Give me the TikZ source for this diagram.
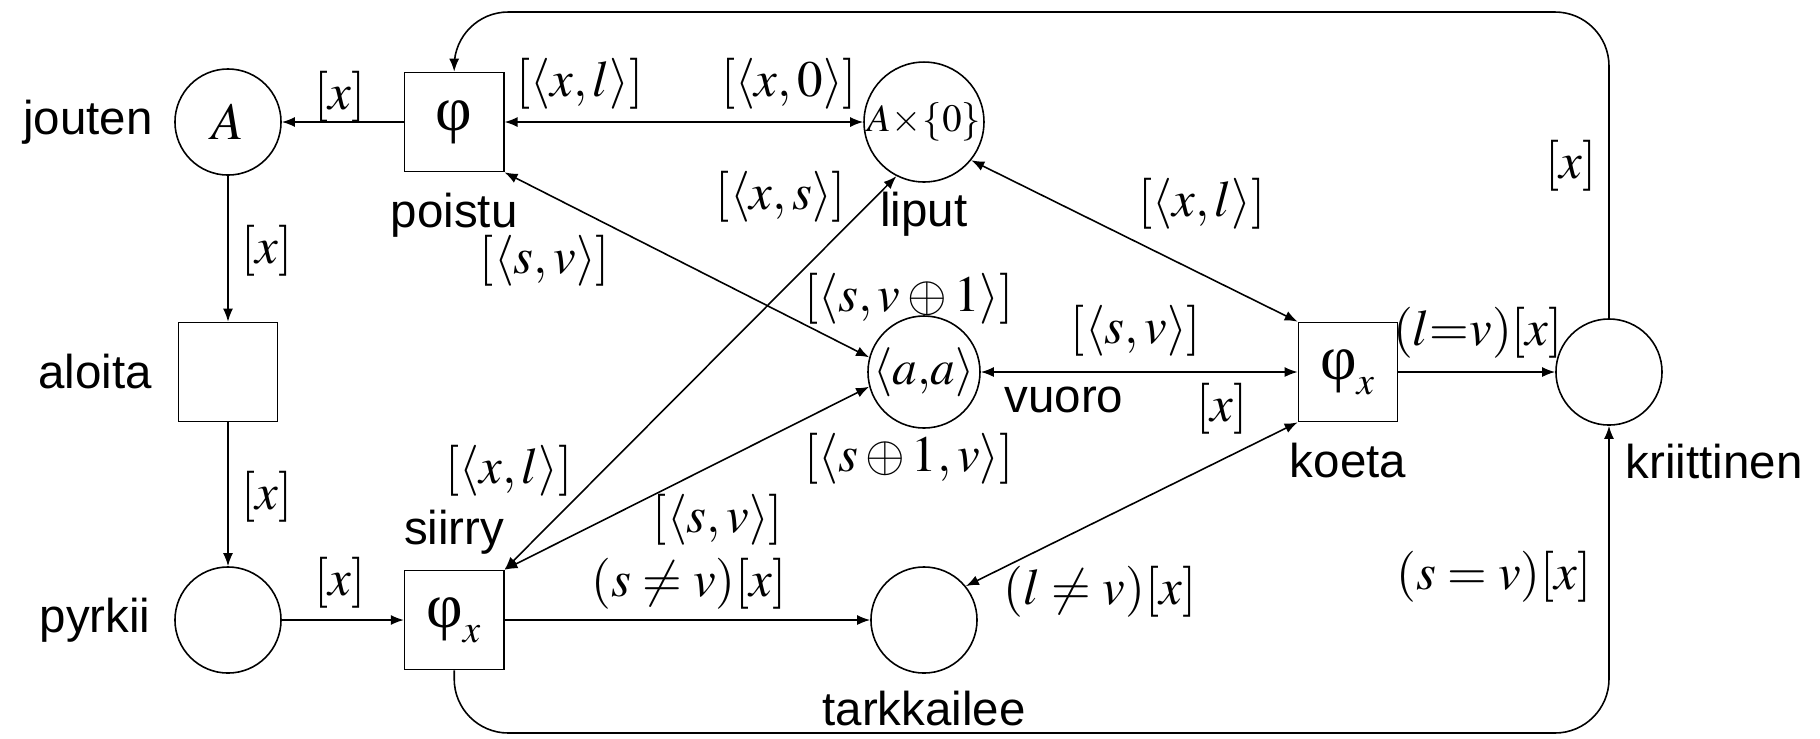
\documentclass[tikz,border=0pt]{standalone}
\usepackage{mathptmx}
\usepackage[no-math]{fontspec}
\setmainfont{Liberation Sans}
\newfontfamily\phifont{Liberation Serif}
\usepackage{tikz}
\usetikzlibrary{arrows.meta,positioning}

\newcommand{\phisym}{\mbox{\phifont\fontsize{18}{20}\selectfont φ}}

\begin{document}
\begin{tikzpicture}[
    x=0.01cm, y=-0.01cm,
    place/.style={draw, circle, minimum size=1.06cm, inner sep=0pt, line width=0.45pt},
    trans/.style={draw, minimum width=0.99cm, minimum height=0.99cm, inner sep=0pt, line width=0.45pt},
    flow/.style={-{Latex[length=1.3mm, width=1mm]}, line width=0.45pt},
    biflow/.style={{Latex[length=1.3mm, width=1mm]}-{Latex[length=1.3mm, width=1mm]}, line width=0.45pt},
    lbl/.style={inner sep=0pt, font=\fontsize{13.5}{16}\selectfont},
    expr/.style={inner sep=0pt, font=\fontsize{14.5}{17}\selectfont}
  ]
    \useasboundingbox (0,0) rectangle (1820,738);

    % places and transitions
    \node[place] (jouten) at (228,122) {\fontsize{15}{17}\selectfont $A$};
    \node[trans, right=1.22cm of jouten] (poistu) {\fontsize{15}{17}\selectfont $\phisym$};
    \node[place] (liput) at (924,122) {\fontsize{11}{13}\selectfont $A\!\times\!\{0\}$};
    \node[trans] (aloita) at (228,372) {};
    \node[place] (vuoro) at (924,372) {\fontsize{14}{16}\selectfont $\langle a,\!a\rangle$};
    \node[trans] (koeta) at (1348,372) {\fontsize{15}{17}\selectfont $\phisym_x$};
    \node[place] (krit) at (1609,372) {};
    \node[place] (pyrkii) at (228,620) {};
    \node[trans, right=1.22cm of pyrkii] (siirry) {\fontsize{15}{17}\selectfont $\phisym_x$};
    \node[place] (tark) at (924,620) {};

    % names
    \node[lbl, left=0.21cm of jouten] (jouten-l) {jouten};
    \node[lbl, left=0.25cm of aloita] (aloita-l) {aloita};
    \node[lbl, left=0.23cm of pyrkii] (pyrkii-l) {pyrkii};
    \node[lbl, below=0.2cm of poistu] (poistu-l) {poistu};
    \node[lbl, below=0.09cm of liput] (liput-l) {liput};
    \node[lbl, right=0.23cm of vuoro, yshift=-0.28cm] (vuoro-l) {vuoro};
    \node[lbl, above=0.15cm of siirry] (siirry-l) {siirry};
    \node[lbl, below=0.17cm of tark] (tark-l) {tarkkailee};
    \node[lbl, below=0.2cm of koeta] (koeta-l) {koeta};
    \node[lbl, anchor=north west] (krit-l) at ([xshift=0.16cm, yshift=-0.18cm]krit.south) {kriittinen};

    % bends of the loops
    \coordinate (top) at (1030,12);
    \coordinate (bot) at (1030,733);

    % arcs
    \draw[flow] (poistu) -- (jouten);
    \draw[flow] (jouten) -- (aloita);
    \draw[flow] (aloita) -- (pyrkii);
    \draw[flow] (pyrkii) -- (siirry);
    \draw[flow] (siirry) -- (tark);
    \draw[flow] (koeta) -- (krit);
    \draw[biflow] (poistu) -- (liput);
    \draw[biflow] (poistu.south east) -- (vuoro.165);
    \draw[biflow] (siirry.north east) -- (vuoro.195);
    \draw[biflow] (siirry.north east) -- (liput.243);
    \draw[biflow] (koeta.north west) -- (liput.321);
    \draw[biflow] (vuoro) -- (koeta);
    \draw[biflow] (koeta.south west) -- (tark.39);
    \draw[flow, rounded corners=0.54cm] (krit.north) |- (top) -| (poistu.north);
    \draw[flow, rounded corners=0.54cm] (siirry.south) |- (bot) -| (krit.south);

    % inscriptions
    \node[expr] (e1) at (340,97) {$[x]$};
    \node[expr] (e2) at (580,84) {$[\langle x,l\rangle]$};
    \node[expr] (e3) at (789,84) {$[\langle x,0\rangle]$};
    \node[expr] (e4) at (545,261) {$[\langle s,v\rangle]$};
    \node[expr] (e5) at (781,197) {$[\langle x,s\rangle]$};
    \node[expr] (e6) at (1202,204) {$[\langle x,l\rangle]$};
    \node[expr] (e7) at (1571,166) {$[x]$};
    \node[expr] (e8) at (267,251) {$[x]$};
    \node[expr] (e9) at (909,299) {$[\langle s,v\oplus 1\rangle]$};
    \node[expr] (e10) at (1136,331) {$[\langle s,v\rangle]$};
    \node[expr] (e11) at (1222,409) {$[x]$};
    \node[expr] (e12) at (1478,333) {$(l{=}v)[x]$};
    \node[expr] (e13) at (909,459) {$[\langle s\oplus 1,v\rangle]$};
    \node[expr] (e14) at (267,497) {$[x]$};
    \node[expr] (e15) at (509,471) {$[\langle x,l\rangle]$};
    \node[expr] (e16) at (718,520) {$[\langle s,v\rangle]$};
    \node[expr] (e17) at (689,584) {$(s\neq v)[x]$};
    \node[expr] (e18) at (340,583) {$[x]$};
    \node[expr] (e19) at (1100,592) {$(l\neq v)[x]$};
    \node[expr] (e20) at (1494,577) {$(s=v)[x]$};
\end{tikzpicture}
\end{document}
